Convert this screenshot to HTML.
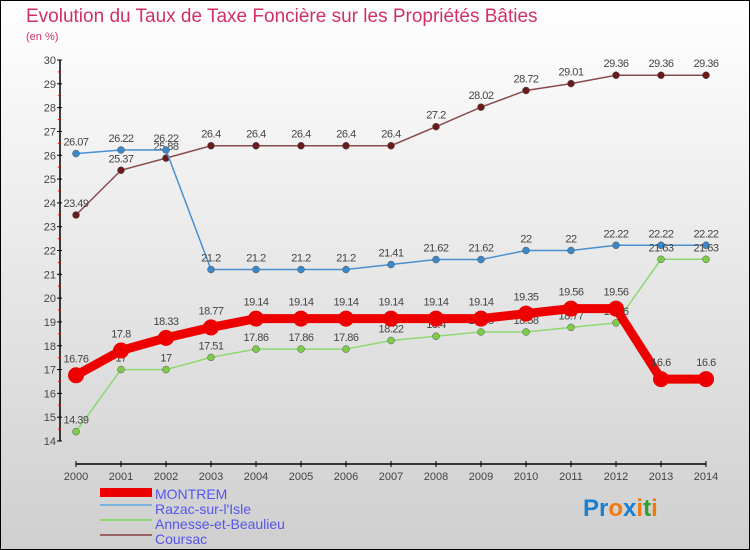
<!DOCTYPE html>
<html><head><meta charset="utf-8"><style>
body{margin:0;width:750px;height:550px;overflow:hidden;font-family:"Liberation Sans",sans-serif}
svg{display:block}
</style></head><body>
<svg width="750" height="550" xmlns="http://www.w3.org/2000/svg">
<defs><linearGradient id="bg" x1="0" y1="0" x2="0" y2="1"><stop offset="0" stop-color="#ffffff"/><stop offset="1" stop-color="#cfcfcf"/></linearGradient></defs>
<rect x="0.5" y="0.5" width="749" height="549" fill="url(#bg)" stroke="#000"/>
<text x="26" y="22" font-size="19" fill="#d0306a">Evolution du Taux de Taxe Foncière sur les Propriétés Bâties</text>
<text x="26" y="40" font-size="11" fill="#d0306a">(en %)</text>
<g id="axes"></g>
<g id="series"></g>
<g id="legend">
<rect x="100" y="488" width="52" height="9" fill="#e00"/>
<text x="155" y="499" font-size="14" fill="#55e">MONTREM</text>
<rect x="100" y="504" width="52" height="2" fill="#7ab0dd"/>
<text x="155" y="514" font-size="14" fill="#55e">Razac-sur-l'Isle</text>
<rect x="100" y="519" width="52" height="2" fill="#8fd870"/>
<text x="155" y="529" font-size="14" fill="#55e">Annesse-et-Beaulieu</text>
<rect x="100" y="534" width="52" height="2" fill="#9a6464"/>
<text x="155" y="544" font-size="14" fill="#55e">Coursac</text>
</g>
<text x="583" y="516" font-size="24" font-weight="bold"><tspan fill="#1a7fd0">Pr</tspan><tspan fill="#f07a10">o</tspan><tspan fill="#1a7fd0">x</tspan><tspan fill="#f07a10">i</tspan><tspan fill="#30a030">t</tspan><tspan fill="#f07a10">i</tspan></text>
</svg>
<script>
const years=[2000,2001,2002,2003,2004,2005,2006,2007,2008,2009,2010,2011,2012,2013,2014];
const yTicks=[14,15,16,17,18,19,20,21,22,23,24,25,26,27,28,29,30];
const montrem=[16.76,17.8,18.33,18.77,19.14,19.14,19.14,19.14,19.14,19.14,19.35,19.56,19.56,16.6,16.6];
const razac=[26.07,26.22,26.22,21.2,21.2,21.2,21.2,21.41,21.62,21.62,22,22,22.22,22.22,22.22];
const annesse=[14.39,17,17,17.51,17.86,17.86,17.86,18.22,18.4,18.58,18.58,18.77,18.96,21.63,21.63];
const coursac=[23.49,25.37,25.88,26.4,26.4,26.4,26.4,26.4,27.2,28.02,28.72,29.01,29.36,29.36,29.36];
const NS="http://www.w3.org/2000/svg";
const yMin=14,yMax=30,y0=441,y1=60,x0=76,x1=706;
const X=i=>x0+(x1-x0)*i/(years.length-1);
const Y=v=>y0-(v-yMin)*(y0-y1)/(yMax-yMin);
function mk(t,a,p){const e=document.createElementNS(NS,t);for(const k in a)e.setAttribute(k,a[k]);p.appendChild(e);return e;}
const ax=document.getElementById('axes');
let e=mk('line',{x1:60,y1:Y(yMax),x2:60,y2:y0,stroke:'#000','stroke-width':1.5},ax);

e=mk('line',{x1:x0,y1:464,x2:x1,y2:464,stroke:'#000','stroke-width':1.5},ax);

yTicks.forEach(v=>{
 mk('line',{x1:57,y1:Y(v),x2:62,y2:Y(v),stroke:'#000'},ax);
 if(v<yMax)mk('line',{x1:58,y1:Y(v+0.5),x2:61,y2:Y(v+0.5),stroke:'#e00'},ax);
 const t=mk('text',{x:56,y:Y(v)+4,'text-anchor':'end','font-size':11,fill:'#444'},ax);t.textContent=v;
 
});
years.forEach((yr,i)=>{
 mk('line',{x1:X(i),y1:461,x2:X(i),y2:467,stroke:'#000'},ax);
 const t=mk('text',{x:X(i),y:480,'text-anchor':'middle','font-size':11,fill:'#444'},ax);t.textContent=yr;
 
});
const sg=document.getElementById('series');
function draw(name,data,color,w,r,dot){
 const g=mk('g',{},sg);
 
 const l=mk('polyline',{points:data.map((v,i)=>X(i)+','+Y(v)).join(' '),fill:'none',stroke:color,'stroke-width':w},g);
 
 data.forEach((v,i)=>{
  const c=mk('circle',{cx:X(i),cy:Y(v),r:r,fill:dot,stroke:w>3?'none':'#555','stroke-width':0.5},g);
  
  const t=mk('text',{x:X(i),y:Y(v)-(w>3?13:8),'text-anchor':'middle','font-size':11,fill:'#444','letter-spacing':'-0.5'},g);t.textContent=v;
  
 });
}
draw('coursac',coursac,'#8a4a4a',1.5,3.5,'#6a1a1a');
draw('razac',razac,'#4a90d0',1.5,3.5,'#3a88c8');
draw('annesse',annesse,'#8fd870',1.5,3.5,'#7ccc4a');
draw('montrem',montrem,'#ee0000',9,8,'#ee0000');
</script>
</body></html>
